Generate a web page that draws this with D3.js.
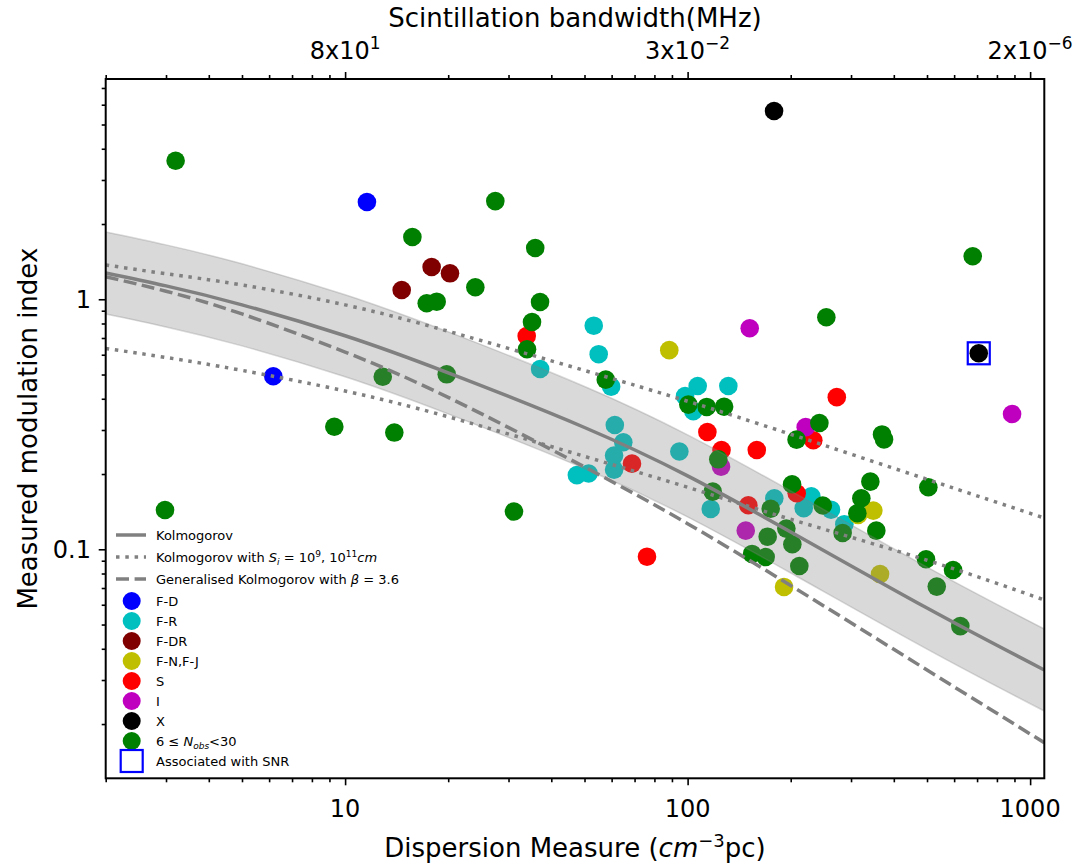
<!DOCTYPE html>
<html lang="en">
<head>
  <meta charset="UTF-8" />
  <title>Modulation index vs Dispersion Measure</title>
  <script src="https://d3js.org/d3.v7.min.js"></script>
  <style>
    body {
      margin: 0;
      background: #fff;
    }
    svg {
      display: block;
      font-family: "DejaVu Sans", sans-serif;
    }
    .tick line {
      stroke: #000;
      stroke-width: 1.6;
    }
    .curve {
      fill: none;
      stroke: #808080;
      stroke-width: 3.5;
    }
  </style>
</head>
<body>

<svg width="1080" height="867"></svg>

<script>
  // model curves at these DMs
  const curveDM     = [2, 3, 5, 10, 20, 50, 100, 200, 500, 1100];
  const kolmogorov  = [1.274, 1.131, 0.950, 0.7145, 0.5076, 0.307, 0.1966, 0.1173, 0.0582, 0.0329];
  const bandUpper   = [1.859, 1.650, 1.386, 1.042, 0.7406, 0.448, 0.2868, 0.1711, 0.0849, 0.0480];
  const bandLower   = [0.873, 0.775, 0.651, 0.490, 0.348, 0.2104, 0.1347, 0.0804, 0.0399, 0.02255];
  const dottedHigh  = [1.372, 1.265, 1.141, 0.950, 0.745, 0.519, 0.391, 0.2884, 0.1905, 0.1334];
  const dottedLow   = [0.636, 0.585, 0.5195, 0.4297, 0.3388, 0.2353, 0.177, 0.1318, 0.0904, 0.0627];
  const generalised = [1.231, 1.077, 0.8735, 0.615, 0.405, 0.2134, 0.1266, 0.0716, 0.0329, 0.01684];

  // pulsars, [DM, modulation index]
  const fD  = [[11.58, 2.45], [6.17, 0.492]];
  const fR  = [[53.2, 0.784], [55.0, 0.603], [37.1, 0.526], [59.8, 0.447], [107, 0.450], [131.5, 0.450],
               [98.3, 0.410], [103.9, 0.357], [61.3, 0.314], [64.9, 0.268], [61.0, 0.237], [61.0, 0.208],
               [47.5, 0.198], [51.4, 0.201], [94.6, 0.246], [229.7, 0.163], [218.3, 0.146], [262.2, 0.144],
               [286.8, 0.126], [116.8, 0.145], [179.1, 0.160]];
  const fDR = [[14.63, 1.089], [17.89, 1.346], [20.24, 1.27]];
  const fNJ = [[88.4, 0.626], [348.5, 0.1427], [314.5, 0.1372], [364.6, 0.0796], [191.2, 0.0707]];
  const sCl = [[33.9, 0.713], [272.6, 0.406], [114.2, 0.2945], [232.8, 0.273], [125.6, 0.2495],
               [159.2, 0.2495], [68.8, 0.220], [208.2, 0.1675], [150.4, 0.150], [76.1, 0.0934]];
  const iCl = [[151.8, 0.766], [221.2, 0.308], [885.7, 0.3476], [125.2, 0.214], [147.8, 0.1187]];
  const xCl = [[178.8, 5.665], [708, 0.608]];
  const fewObs = [[3.20, 3.58], [27.45, 2.47], [15.72, 1.775], [24.0, 1.117], [35.9, 1.604], [17.31, 0.964],
               [18.51, 0.978], [37.08, 0.975], [35.13, 0.811], [33.97, 0.631], [12.88, 0.490], [19.80, 0.501],
               [9.30, 0.309], [13.92, 0.293], [2.98, 0.1436], [31.12, 0.1416], [679.9, 1.486], [254.1, 0.847],
               [57.68, 0.477], [100.5, 0.379], [113.7, 0.371], [127.8, 0.3715], [242.5, 0.320], [208.0, 0.2745],
               [369.5, 0.288], [374.5, 0.275], [122.9, 0.229], [341.6, 0.1864], [504.5, 0.177], [201.8, 0.182],
               [248.1, 0.1497], [321.5, 0.160], [313.0, 0.1393], [283.5, 0.1162], [355.6, 0.1187], [496.7, 0.0912],
               [595.6, 0.0826], [533.8, 0.0709], [625.5, 0.0493], [118.4, 0.170], [174.8, 0.1453], [194.2, 0.121],
               [171.3, 0.1123], [202.2, 0.1047], [154.2, 0.0958], [169.0, 0.0931], [211.9, 0.0857]];
  const snr = [[708, 0.608]];

  const groups = [
    {name: "F-D", color: "#0000ff", pts: fD},
    {name: "F-R", color: "#00bfbf", pts: fR},
    {name: "F-DR", color: "#800000", pts: fDR},
    {name: "F-N,F-J", color: "#bfbf00", pts: fNJ},
    {name: "S", color: "#ff0000", pts: sCl},
    {name: "I", color: "#bf00bf", pts: iCl},
    {name: "X", color: "#000000", pts: xCl},
    {name: "fewObs", color: "#008000", pts: fewObs}
  ];

  const xMajor = [10, 100, 1000];
  const topTickLabels = [["8x10", "1"], ["3x10", "\u22122"], ["2x10", "\u22126"]];
  const yMajor = [0.1, 1];
  const yTickLabels = ["0.1", "1"];

  const svg = d3.select("svg"),
        pLeft = 105.7, pRight = 1044.3, pTop = 79, pBottom = 778.3;

  const x = d3.scaleLog().domain([2, 1100]).range([pLeft, pRight]);
  const y = d3.scaleLog().domain([Math.pow(10, -1.916), Math.pow(10, 0.881)]).range([pBottom, pTop]);

  const minor = (lo, hi) => {
    const out = [];
    for (let e = -3; e <= 3; e++)
      for (let k = 2; k <= 9; k++) {
        const v = k * Math.pow(10, e);
        if (v >= lo && v <= hi) out.push(v);
      }
    return out;
  };
  const xMinor = minor(2, 1100);
  const yMinor = minor(0.0122, 7.6);

  svg.append("defs").append("clipPath").attr("id", "plot")
    .append("rect").attr("x", pLeft).attr("y", pTop)
    .attr("width", pRight - pLeft).attr("height", pBottom - pTop);

  const plot = svg.append("g").attr("clip-path", "url(#plot)");

  // scatter, green last so it sits on top
  groups.forEach(g => {
    plot.append("g").selectAll("circle")
      .data(g.pts)
      .join("circle")
      .attr("cx", d => x(d[0]))
      .attr("cy", d => y(d[1]))
      .attr("r", 9.3)
      .attr("fill", g.color);
  });

  plot.selectAll("rect.snr")
    .data(snr)
    .join("rect")
    .attr("class", "snr")
    .attr("x", d => x(d[0]) - 11)
    .attr("y", d => y(d[1]) - 11)
    .attr("width", 22)
    .attr("height", 22)
    .attr("fill", "none")
    .attr("stroke", "#0000ff")
    .attr("stroke-width", 2.2);

  // shaded band goes over the points
  const band = d3.area()
    .x((d, i) => x(curveDM[i]))
    .y0((d, i) => y(bandLower[i]))
    .y1(d => y(d))
    .curve(d3.curveNatural);

  plot.append("path")
    .datum(bandUpper)
    .attr("d", band)
    .attr("fill", "#808080")
    .attr("fill-opacity", 0.3)
    .attr("stroke", "#808080")
    .attr("stroke-opacity", 0.3)
    .attr("stroke-width", 1.5);

  const line = d3.line()
    .x((d, i) => x(curveDM[i]))
    .y(d => y(d))
    .curve(d3.curveNatural);

  plot.append("path").datum(kolmogorov).attr("class", "curve").attr("d", line);
  plot.append("path").datum(dottedHigh).attr("class", "curve").attr("d", line).attr("stroke-dasharray", "3.5,5.8");
  plot.append("path").datum(dottedLow).attr("class", "curve").attr("d", line).attr("stroke-dasharray", "3.5,5.8");
  plot.append("path").datum(generalised).attr("class", "curve").attr("d", line).attr("stroke-dasharray", "13,5.6");

  // axes: ticks only, labels added by hand
  const addAxis = (axis, vals, size, tx, ty) => {
    const g = svg.append("g").attr("transform", `translate(${tx},${ty})`)
      .call(axis.tickValues(vals).tickSize(size).tickFormat(""));
    g.select(".domain").remove();
  };
  addAxis(d3.axisBottom(x), xMajor, 7, 0, pBottom);
  addAxis(d3.axisBottom(x), xMinor, 4, 0, pBottom);
  addAxis(d3.axisTop(x), xMajor, 7, 0, pTop);
  addAxis(d3.axisTop(x), xMinor, 4, 0, pTop);
  addAxis(d3.axisLeft(y), yMajor, 7, pLeft, 0);
  addAxis(d3.axisLeft(y), yMinor, 4, pLeft, 0);

  svg.append("rect")
    .attr("x", pLeft).attr("y", pTop)
    .attr("width", pRight - pLeft).attr("height", pBottom - pTop)
    .attr("fill", "none").attr("stroke", "#000").attr("stroke-width", 2);

  svg.append("g").selectAll("text")
    .data(xMajor)
    .join("text")
    .attr("x", d => x(d))
    .attr("y", 817)
    .attr("text-anchor", "middle")
    .attr("font-size", 24)
    .text(d => d);

  svg.append("g").selectAll("text")
    .data(yMajor)
    .join("text")
    .attr("x", 91)
    .attr("y", d => y(d) + 8.5)
    .attr("text-anchor", "end")
    .attr("font-size", 24)
    .text((d, i) => yTickLabels[i]);

  const topLab = svg.append("g").selectAll("text")
    .data(xMajor)
    .join("text")
    .attr("x", d => x(d))
    .attr("y", 59)
    .attr("text-anchor", "middle")
    .attr("font-size", 24);
  topLab.append("tspan").text((d, i) => topTickLabels[i][0]);
  topLab.append("tspan").attr("dy", -10).attr("font-size", 17).text((d, i) => topTickLabels[i][1]);

  // axis titles
  const xt = svg.append("text")
    .attr("x", (pLeft + pRight) / 2).attr("y", 857)
    .attr("text-anchor", "middle").attr("font-size", 26);
  xt.append("tspan").text("Dispersion Measure (");
  xt.append("tspan").attr("font-style", "italic").text("cm");
  xt.append("tspan").attr("dy", -10).attr("font-size", 18).text("\u22123");
  xt.append("tspan").attr("dy", 10).text("pc)");

  svg.append("text")
    .attr("x", (pLeft + pRight) / 2).attr("y", 27)
    .attr("text-anchor", "middle").attr("font-size", 26)
    .text("Scintillation bandwidth(MHz)");

  svg.append("text")
    .attr("transform", `translate(37,${(pTop + pBottom) / 2}) rotate(-90)`)
    .attr("text-anchor", "middle").attr("font-size", 26)
    .text("Measured modulation index");

  // legend
  const leg = svg.append("g").attr("font-size", 13);
  const rowY = [535, 557, 579, 601, 621, 641, 661, 681, 701, 721, 741, 761];
  const tx = 156;

  [["none"], ["3.5,5.8"], ["13,5.6"]].forEach((dash, i) => {
    leg.append("line")
      .attr("x1", 116).attr("x2", 146)
      .attr("y1", rowY[i]).attr("y2", rowY[i])
      .attr("stroke", "#808080").attr("stroke-width", 3.5)
      .attr("stroke-dasharray", dash[0]);
  });
  leg.append("text").attr("x", tx).attr("y", rowY[0] + 4.5).text("Kolmogorov");

  const t1 = leg.append("text").attr("x", tx).attr("y", rowY[1] + 4.5);
  t1.append("tspan").text("Kolmogorov with ");
  t1.append("tspan").attr("font-style", "italic").text("S");
  t1.append("tspan").attr("font-style", "italic").attr("font-size", 9).attr("dy", 3).text("i");
  t1.append("tspan").attr("dy", -3).text(" = 10");
  t1.append("tspan").attr("font-size", 9).attr("dy", -5).text("9");
  t1.append("tspan").attr("dy", 5).text(", 10");
  t1.append("tspan").attr("font-size", 9).attr("dy", -5).text("11");
  t1.append("tspan").attr("dy", 5).attr("font-style", "italic").text("cm");

  const t2 = leg.append("text").attr("x", tx).attr("y", rowY[2] + 4.5);
  t2.append("tspan").text("Generalised Kolmogorov with ");
  t2.append("tspan").attr("font-style", "italic").text("\u03b2");
  t2.append("tspan").text(" = 3.6");

  groups.forEach((g, i) => {
    const yy = rowY[i + 3];
    leg.append("circle").attr("cx", 131.7).attr("cy", yy).attr("r", 9).attr("fill", g.color);
    if (g.name !== "fewObs") {
      leg.append("text").attr("x", tx).attr("y", yy + 4.5).text(g.name);
    } else {
      const t = leg.append("text").attr("x", tx).attr("y", yy + 4.5);
      t.append("tspan").text("6 \u2264 ");
      t.append("tspan").attr("font-style", "italic").text("N");
      t.append("tspan").attr("font-style", "italic").attr("font-size", 9).attr("dy", 3).text("obs");
      t.append("tspan").attr("dy", -3).text("<30");
    }
  });

  leg.append("rect")
    .attr("x", 120.7).attr("y", rowY[11] - 11)
    .attr("width", 22).attr("height", 22)
    .attr("fill", "none").attr("stroke", "#0000ff").attr("stroke-width", 2.2);
  leg.append("text").attr("x", tx).attr("y", rowY[11] + 4.5).text("Associated with SNR");
</script>

</body>
</html>
